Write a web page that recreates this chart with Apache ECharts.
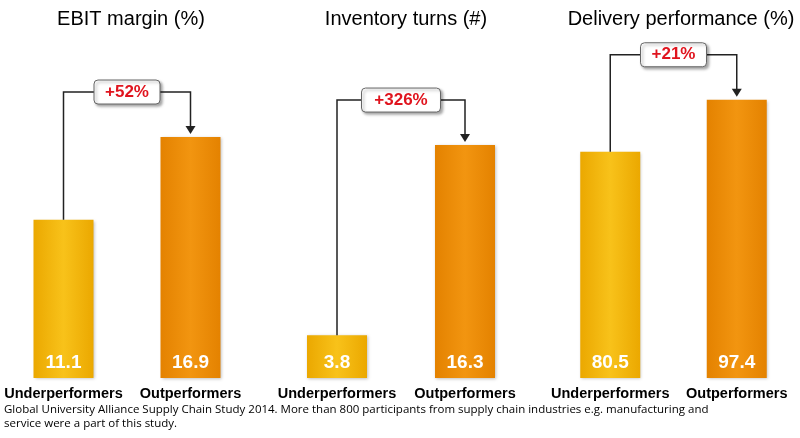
<!DOCTYPE html>
<html>
<head>
<meta charset="utf-8">
<script src="https://cdn.jsdelivr.net/npm/echarts@6/dist/echarts.min.js"></script>
<style>html,body{margin:0;padding:0;background:#fff}#c{width:800px;height:438px}</style>
</head>
<body>
<div id="c"></div>
<script>
// data
var titles = ['EBIT margin (%)', 'Inventory turns (#)', 'Delivery performance (%)'];
var categories = ['Underperformers', 'Outperformers'];
var underValues = [11.1, 3.8, 80.5];
var outValues = [16.9, 16.3, 97.4];
var changes = ['+52%', '+326%', '+21%'];
var axisMins = [0.01, 1.0, 7.1];
var axisMaxs = [23.7, 23.2, 116.8];
var footnote = 'Global University Alliance Supply Chain Study 2014. More than 800 participants from supply chain industries e.g. manufacturing and\nservice were a part of this study.';

var gridLefts = [-2, 273, 547];
var gridWidths = [256, 256, 258];

function grad(c1, c2) {
  return new echarts.graphic.LinearGradient(0, 0, 1, 0, [
    {offset: 0, color: c1}, {offset: 0.5, color: c2}, {offset: 1, color: c1}
  ]);
}
var underColor = grad('#eba800', '#f8c21a');
var outColor = grad('#e48200', '#f29510');

var chart = echarts.init(document.getElementById('c'));
var grids = [], xAxes = [], yAxes = [], series = [], titleOpts = [];
for (var i = 0; i < 3; i++) {
  grids.push({left: gridLefts[i], width: gridWidths[i], top: 40, bottom: 60});
  xAxes.push({
    type: 'category', gridIndex: i, data: categories,
    axisLine: {show: false}, axisTick: {show: false},
    axisLabel: {interval: 0, hideOverlap: false, color: '#000', fontWeight: 'bold', fontSize: 14.5,
      fontFamily: 'Arial, Liberation Sans', margin: 8}
  });
  yAxes.push({type: 'value', gridIndex: i, min: axisMins[i], max: axisMaxs[i], show: false});
  series.push({
    type: 'bar', xAxisIndex: i, yAxisIndex: i, barWidth: 60,
    data: [
      {value: underValues[i], itemStyle: {color: underColor}},
      {value: outValues[i], itemStyle: {color: outColor}}
    ],
    itemStyle: {shadowColor: 'rgba(0,0,0,0.25)', shadowBlur: 3, shadowOffsetX: 1, shadowOffsetY: 1},
    label: {show: true, position: 'insideBottom', distance: 6, color: '#fff', fontWeight: 'bold',
      fontSize: 19, fontFamily: 'Arial, Liberation Sans'},
    animation: false
  });
  titleOpts.push({
    text: titles[i], left: gridLefts[i] + gridWidths[i] / 2, textAlign: 'center', top: 4,
    textStyle: {fontSize: 20, fontWeight: 'normal', color: '#000', fontFamily: 'Arial, Liberation Sans'}
  });
}
chart.setOption({
  animation: false,
  title: titleOpts, grid: grids, xAxis: xAxes, yAxis: yAxes, series: series
});

// brackets computed from the chart's own scales
var g = [];
for (var i = 0; i < 3; i++) {
  var pU = chart.convertToPixel({gridIndex: i}, [0, underValues[i]]);
  var pO = chart.convertToPixel({gridIndex: i}, [1, outValues[i]]);
  var yTop = pO[1] - 45;
  g.push({type: 'polyline', shape: {points: [[pU[0], pU[1]], [pU[0], yTop], [pO[0], yTop], [pO[0], pO[1] - 10]]},
    style: {stroke: '#222', lineWidth: 1.5, fill: null}, z: 10});
  g.push({type: 'polygon', shape: {points: [[pO[0] - 5, pO[1] - 11], [pO[0] + 5, pO[1] - 11], [pO[0], pO[1] - 3]]},
    style: {fill: '#222'}, z: 10});
  var w = changes[i].length * 13 + 14;
  var cx = (pU[0] + pO[0]) / 2;
  g.push({type: 'rect', shape: {x: cx - w / 2, y: yTop - 12, width: w, height: 24, r: 4},
    style: {fill: '#fff', stroke: '#666', lineWidth: 1, shadowColor: 'rgba(0,0,0,0.35)', shadowBlur: 3, shadowOffsetX: 2, shadowOffsetY: 2}, z: 11});
  g.push({type: 'text', x: cx, y: yTop, style: {text: changes[i], fill: '#e0141e', fontWeight: 'bold', fontSize: 17,
    fontFamily: 'Arial, Liberation Sans', textAlign: 'center', textVerticalAlign: 'middle'}, z: 12});
}
g.push({type: 'text', left: 4, top: 403, style: {text: footnote, fontSize: 11.5, lineHeight: 14, fill: '#000', fontFamily: 'Open Sans, Arial'}});
chart.setOption({graphic: g});
</script>
</body>
</html>
